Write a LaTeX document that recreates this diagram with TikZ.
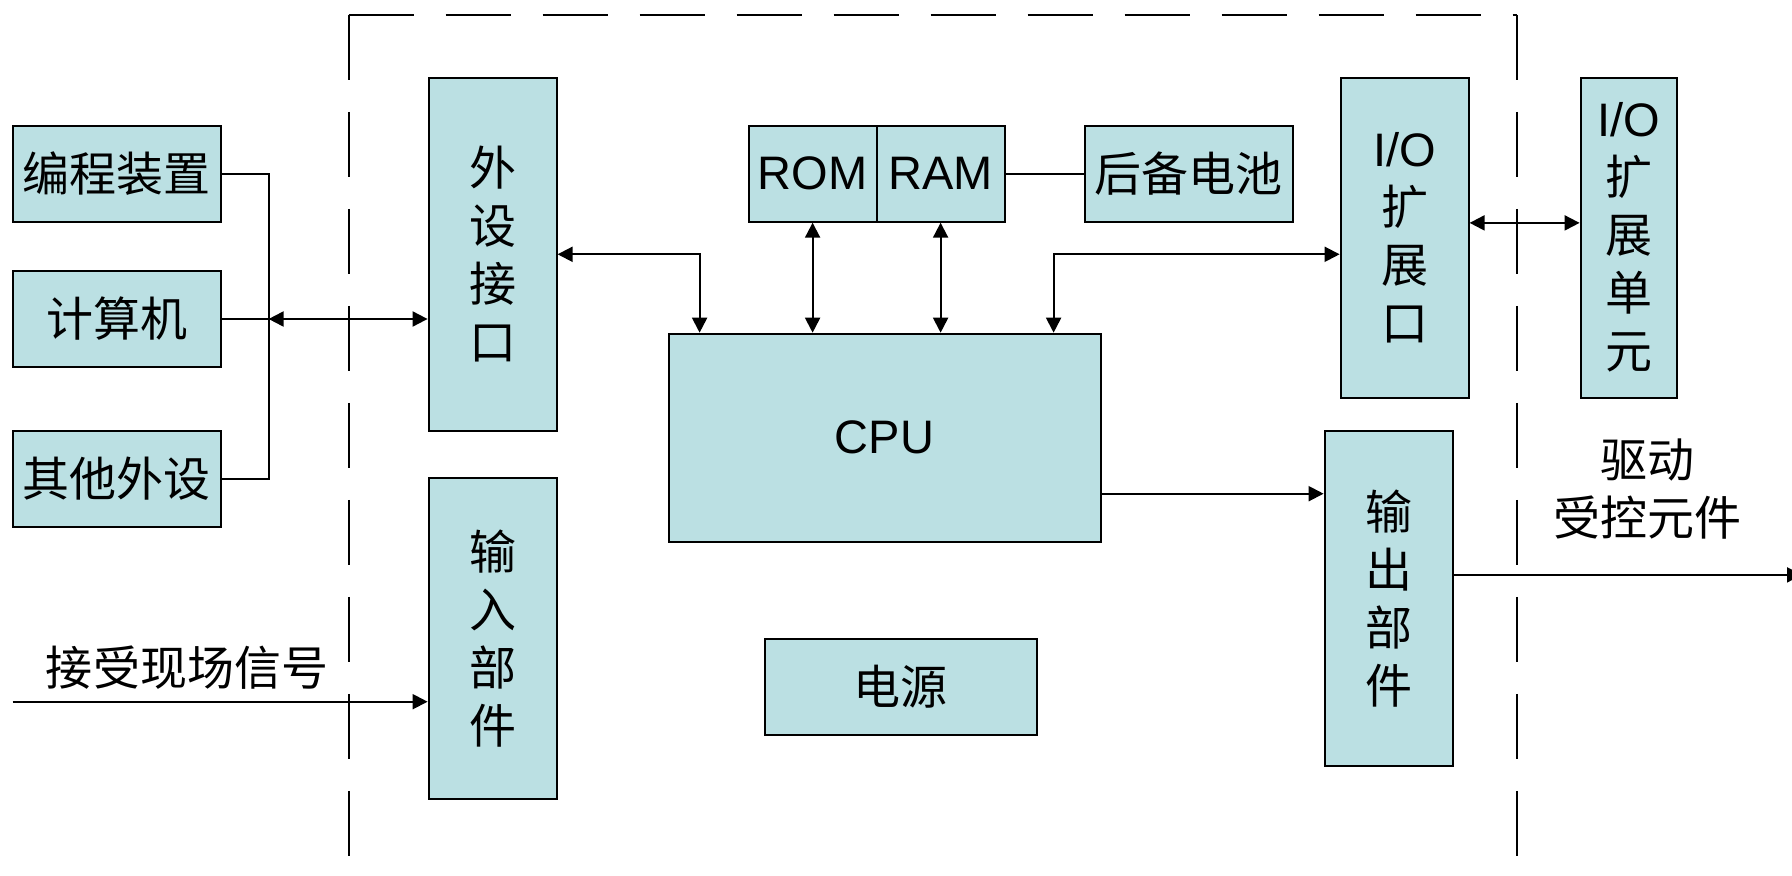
\documentclass[tikz,border=0pt]{standalone}
\usepackage{fontspec}
\setmainfont{Liberation Sans}
\newfontfamily\cjk{Noto Sans CJK SC}
\usepackage{xcolor}
\usetikzlibrary{arrows.meta,positioning}
\definecolor{boxfill}{RGB}{187,224,227}
\tikzset{
  blk/.style={draw,line width=1pt,fill=boxfill,inner sep=0pt,align=center,
    font=\cjk\fontsize{23.5}{29}\selectfont},
  lbl/.style={align=center,font=\cjk\fontsize{23.5}{29}\selectfont},
  lnk/.style={line width=1pt},
  arr/.style={lnk,-{Triangle[length=7.5pt,width=7.5pt]}},
  dbl/.style={lnk,{Triangle[length=7.5pt,width=7.5pt]}-{Triangle[length=7.5pt,width=7.5pt]}},
  plcframe/.style={line width=1pt,dash pattern=on 32.5pt off 16pt},
}

\begin{document}
\begin{tikzpicture}[x=0.5pt,y=-0.5pt]
  \useasboundingbox (0,0) rectangle (1792,876);
  \draw[plcframe] (348.6,14.9) -- (348.6,880);
  \draw[plcframe] (348.6,14.9) -- (1516.6,14.9);
  \draw[plcframe] (1516.6,14.9) -- (1516.6,880);

  \node[blk,minimum width=104pt,minimum height=48pt] (prog) at (116.6,173.7) {编程装置};
  \node[blk,minimum width=104pt,minimum height=48pt] (pc) at (116.6,319) {计算机};
  \node[blk,minimum width=104pt,minimum height=48pt] (other) at (116.6,479) {其他外设};
  \node[blk,minimum width=64pt,minimum height=176.6pt] (periph) at (492.6,254.3) {外\\设\\接\\口};
  \node[blk,minimum width=64pt,minimum height=160.6pt] (inp) at (492.6,638.3) {输\\入\\部\\件};
  \node[blk,minimum width=64pt,minimum height=48pt] (rom) at (812.6,173.7) {\rmfamily ROM};
  \node[blk,minimum width=64pt,minimum height=48pt,right=-1pt of rom] (ram) {\rmfamily RAM};
  \node[blk,minimum width=104pt,minimum height=48pt] (bat) at (1188.6,173.7) {后备电池};
  \node[blk,minimum width=216pt,minimum height=104pt] (cpu) at (884.6,437.7) {\rmfamily CPU};
  \node[blk,minimum width=64pt,minimum height=160pt] (ioport) at (1404.6,237.7) {{\rmfamily I/O}\\扩\\展\\口};
  \node[blk,minimum width=48pt,minimum height=160pt] (iounit) at (1628.6,237.7) {{\rmfamily I/O}\\扩\\展\\单\\元};
  \node[blk,minimum width=64pt,minimum height=167.4pt] (outp) at (1388.6,598.3) {输\\出\\部\\件};
  \node[blk,minimum width=136pt,minimum height=48pt] (power) at (900.6,686.9) {电源};

  \node[lbl] (siglbl) at (187,668) {接受现场信号};
  \node[lbl] (drvlbl) at (1647,489) {驱动\\受控元件};

  \coordinate (bus) at (268.6,319);
  \coordinate (sig) at (12.6,701.7);
  \coordinate (drv) at (1802,574.9);

  \draw[lnk] (prog.east) -| (bus) |- (other.east);
  \draw[lnk] (pc.east) -- (bus);
  \draw[dbl] (bus) -- (bus -| periph.west);
  \draw[dbl] (periph.east) -| ([xshift=16pt]cpu.north west);
  \draw[dbl] (rom.south) -- (rom.south |- cpu.north);
  \draw[dbl] (ram.south) -- (ram.south |- cpu.north);
  \draw[dbl] ([xshift=-24pt]cpu.north east) |- (ioport.west |- periph.east);
  \draw[lnk] (ram.east) -- (bat.west);
  \draw[dbl] ([yshift=7.4pt]ioport.east) -- ([yshift=7.4pt]iounit.west);
  \draw[arr] ([yshift=-28pt]cpu.east) -- ([yshift=-28pt]cpu.east -| outp.west);
  \draw[arr] (sig) -- (sig -| inp.west);
  \draw[arr] (outp.east |- drv) -- (drv);
\end{tikzpicture}
\end{document}
